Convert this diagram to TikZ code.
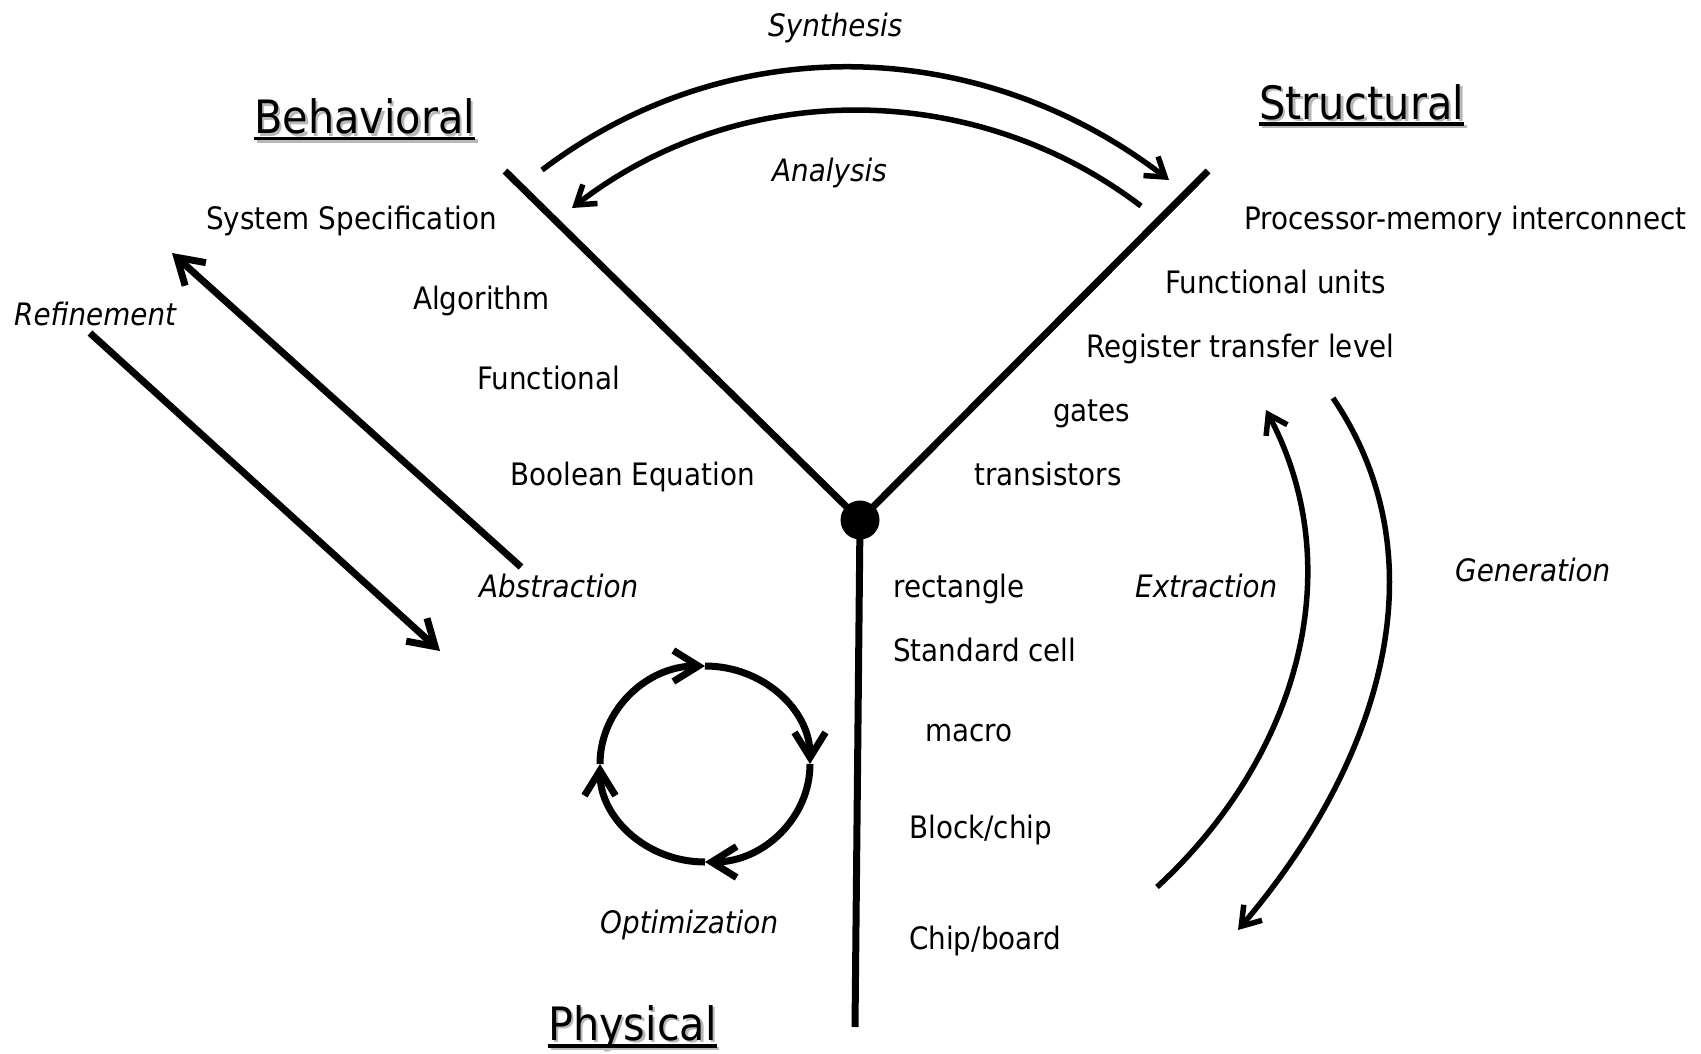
\documentclass[tikz,border=0pt]{standalone}
\usepackage{fontspec}
\setmainfont{DejaVu Sans}[FakeStretch=0.9]
\usetikzlibrary{arrows.meta,calc}
\definecolor{shadowgray}{gray}{0.72}

\begin{document}
\begin{tikzpicture}[x=1pt,y=-1pt,
  lbl/.style={anchor=base west, inner sep=0pt, font=\fontsize{30.9}{36}\selectfont},
  ilbl/.style={lbl, font=\fontsize{30.9}{36}\selectfont\itshape},
  ttl/.style={anchor=base west, inner sep=0pt, font=\fontsize{46}{54}\selectfont},
  ttlshadow/.style={ttl, text=shadowgray},
  axisline/.style={line width=7pt},
  bigarrow/.style={line width=7pt, -{Straight Barb[length=25pt,width=31pt]}},
  arcarrow/.style={line width=5.5pt, -{Straight Barb[length=18pt,width=24pt]}},
  uline/.style={line width=3.5pt},
]
\useasboundingbox (0,0) rectangle (1701,1053);

% ---------- the three axes meeting at the hub ----------
\node[circle, fill=black, minimum size=39pt, inner sep=0pt] (hub) at (860,520) {};
\coordinate (behtop) at (505,171);
\coordinate (strtop) at (1208,171);
\coordinate (phybot) at (855,1027);
\draw[axisline] (hub.center) -- (behtop);
\draw[axisline] (hub.center) -- (strtop);
\draw[axisline] (hub.center) -- (phybot);

% ---------- domain titles (drop shadow + underline) ----------
\node[ttlshadow] (behS) at (256.5,136) {Behavioral};
\node[ttl] (beh) at (254,133.5) {Behavioral};
\draw[uline, shadowgray] ($(beh.base west)+(2.5,7.5)$) -- ($(beh.base east)+(2.5,7.5)$);
\draw[uline] ($(beh.base west)+(0,5)$) -- ($(beh.base east)+(0,5)$);

\node[ttlshadow] (strS) at (1261.5,121.5) {Structural};
\node[ttl] (str) at (1259,119) {Structural};
\draw[uline, shadowgray] ($(str.base west)+(2.5,7.5)$) -- ($(str.base east)+(2.5,7.5)$);
\draw[uline] ($(str.base west)+(0,5)$) -- ($(str.base east)+(0,5)$);

\node[ttlshadow] (phyS) at (550.5,1042.5) {Physical};
\node[ttl] (phy) at (548,1040) {Physical};
\draw[uline, shadowgray] ($(phy.base west)+(2.5,8.5)$) -- ($(phy.base east)+(2.5,8.5)$);
\draw[uline] ($(phy.base west)+(0,6)$) -- ($(phy.base east)+(0,6)$);

% ---------- behavioral levels ----------
\node[lbl] (sysspec) at (206,229) {System Specification};
\node[lbl] (algo) at (413,309) {Algorithm};
\node[lbl] (func) at (477,389) {Functional};
\node[lbl] (bool) at (510,485) {Boolean Equation};

% ---------- structural levels ----------
\node[lbl] (pmi) at (1244,229) {Processor-memory interconnect};
\node[lbl] (funits) at (1165,293) {Functional units};
\node[lbl] (rtl) at (1086,357) {Register transfer level};
\node[lbl] (gates) at (1053,421) {gates};
\node[lbl] (trans) at (974,485) {transistors};

% ---------- physical levels ----------
\node[lbl] (rect) at (893,597) {rectangle};
\node[lbl] (stdcell) at (893,661) {Standard cell};
\node[lbl] (macro) at (925,741) {macro};
\node[lbl] (block) at (909,838) {Block/chip};
\node[lbl] (board) at (909,949) {Chip/board};

% ---------- transformation labels ----------
\node[ilbl] (synth) at (768,36) {Synthesis};
\node[ilbl] (anal) at (772,181) {Analysis};
\node[ilbl] (refine) at (14,325) {Refinement};
\node[ilbl] (abstr) at (479,597) {Abstraction};
\node[ilbl] (extr) at (1135,597) {Extraction};
\node[ilbl] (gener) at (1455,581) {Generation};
\node[ilbl] (optim) at (600,933) {Optimization};

% ---------- synthesis / analysis arcs ----------
\coordinate (synA) at (542,170);
\coordinate (synB) at (1169,180);
\coordinate (anaA) at (1141,206);
\coordinate (anaB) at (572,208);
\draw[arcarrow] (synA) .. controls (731,27) and (981,36) .. (synB);
\draw[arcarrow] (anaA) .. controls (973,78) and (739,79) .. (anaB);

% ---------- refinement / abstraction ----------
\coordinate (refA) at (90,333);
\coordinate (refB) at (440,651);
\coordinate (absA) at (521,567);
\coordinate (absB) at (172,253);
\draw[bigarrow] (refA) -- (refB);
\draw[bigarrow] (absA) -- (absB);

% ---------- extraction / generation ----------
\coordinate (extA) at (1157,887);
\coordinate (extB) at (1266,410);
\coordinate (genA) at (1333,398);
\coordinate (genB) at (1238,930);
\draw[arcarrow] (extA) .. controls (1295,760) and (1352,573) .. (extB);
\draw[arcarrow] (genA) .. controls (1448,568) and (1372,773) .. (genB);

% ---------- optimization cycle ----------
\coordinate (optc) at (705,764);
\draw[bigarrow] (optc) ++(180:105pt and 98pt) arc[start angle=180, end angle=90, x radius=105pt, y radius=98pt];
\draw[bigarrow] (optc) ++(90:105pt and 98pt) arc[start angle=90, end angle=0, x radius=105pt, y radius=98pt];
\draw[bigarrow] (optc) ++(0:105pt and 98pt) arc[start angle=0, end angle=-90, x radius=105pt, y radius=98pt];
\draw[bigarrow] (optc) ++(-90:105pt and 98pt) arc[start angle=-90, end angle=-180, x radius=105pt, y radius=98pt];
\end{tikzpicture}
\end{document}
